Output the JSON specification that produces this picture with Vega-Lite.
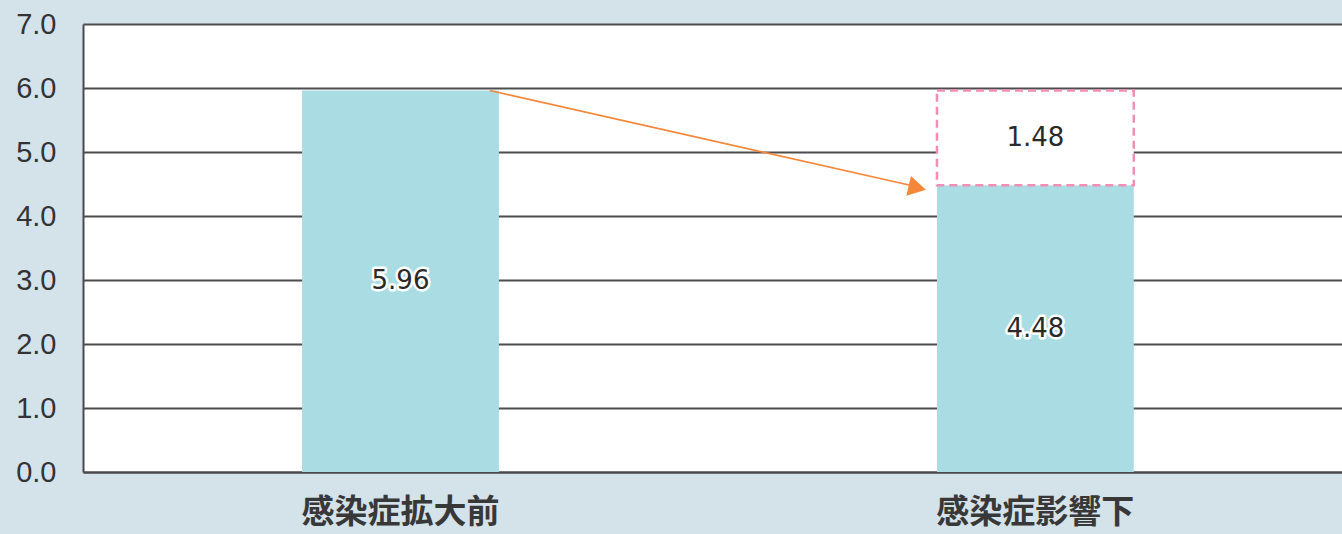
{
  "$schema": "https://vega.github.io/schema/vega-lite/v6.json",
  "autosize": "none",
  "padding": {"left": 83, "top": 24, "right": 0, "bottom": 62},
  "width": 1259,
  "height": 448,
  "background": "#d4e2e9",
  "config": {
    "view": {"fill": "white", "stroke": null},
    "axis": {"domainColor": "#4a4a4a", "domainWidth": 2, "gridColor": "#4d4d4d", "gridWidth": 2, "ticks": false}
  },
  "datasets": {
    "bars": [
      {"period": "感染症拡大前", "part": "実績", "y0": 0, "y1": 5.96, "value": 5.96},
      {"period": "感染症影響下", "part": "実績", "y0": 0, "y1": 4.48, "value": 4.48},
      {"period": "感染症影響下", "part": "減少分", "y0": 4.48, "y1": 5.96, "value": 1.48}
    ],
    "arrow": [
      {"from": "感染症拡大前", "to": "感染症影響下", "start": 5.96, "end": 4.44}
    ]
  },
  "encoding": {
    "x": {
      "field": "period",
      "type": "nominal",
      "sort": null,
      "scale": {"paddingInner": 0.69, "paddingOuter": 0.3365, "align": 0.5127},
      "axis": {
        "title": null,
        "labelAngle": 0,
        "labelLimit": 0,
        "labelFont": "Noto Sans CJK JP",
        "labelFontSize": 33,
        "labelFontWeight": "bold",
        "labelColor": "#383838",
        "labelPadding": 24,
        "labelBaseline": "top"
      }
    }
  },
  "layer": [
    {
      "data": {"name": "bars"},
      "transform": [{"filter": "datum.part === '実績'"}],
      "mark": {"type": "bar", "fill": "#a9dce3"},
      "encoding": {
        "y": {
          "field": "y1",
          "type": "quantitative",
          "scale": {"domain": [0, 7]},
          "axis": {
            "title": null,
            "values": [0, 1, 2, 3, 4, 5, 6, 7],
            "format": ".1f",
            "labelOverlap": false,
            "labelFont": "Liberation Sans",
            "labelFontSize": 29,
            "labelColor": "#333333",
            "labelPadding": 27
          }
        },
        "y2": {"field": "y0"}
      }
    },
    {
      "data": {"name": "bars"},
      "transform": [{"filter": "datum.part === '減少分'"}],
      "mark": {"type": "bar", "fill": "white", "stroke": "#f28db5", "strokeWidth": 2.5, "strokeDash": [8, 5]},
      "encoding": {
        "y": {"field": "y1", "type": "quantitative"},
        "y2": {"field": "y0"}
      }
    },
    {
      "data": {"name": "arrow"},
      "mark": {"type": "rule", "color": "#f5873a", "strokeWidth": 1.6},
      "encoding": {
        "x": {"field": "from", "type": "nominal", "bandPosition": 0.954},
        "x2": {"field": "to", "bandPosition": -0.08},
        "y": {"field": "start", "type": "quantitative"},
        "y2": {"field": "end"}
      }
    },
    {
      "data": {"name": "arrow"},
      "mark": {"type": "point", "shape": "triangle-right", "filled": true, "color": "#f5873a", "opacity": 1, "size": 420, "angle": 12.8},
      "encoding": {
        "x": {"field": "to", "type": "nominal", "bandPosition": -0.1},
        "y": {"field": "end", "type": "quantitative"}
      }
    },
    {
      "data": {"name": "bars"},
      "transform": [{"calculate": "(datum.y0 + datum.y1) / 2", "as": "mid"}],
      "mark": {"type": "text", "font": "DejaVu Sans", "fontSize": 26, "stroke": "white", "strokeWidth": 5, "strokeJoin": "round", "fill": "white", "baseline": "middle", "align": "center"},
      "encoding": {
        "y": {"field": "mid", "type": "quantitative"},
        "text": {"field": "value", "type": "quantitative", "format": ".2f"}
      }
    },
    {
      "data": {"name": "bars"},
      "transform": [{"calculate": "(datum.y0 + datum.y1) / 2", "as": "mid"}],
      "mark": {"type": "text", "font": "DejaVu Sans", "fontSize": 26, "color": "#2a2a2a", "baseline": "middle", "align": "center"},
      "encoding": {
        "y": {"field": "mid", "type": "quantitative"},
        "text": {"field": "value", "type": "quantitative", "format": ".2f"}
      }
    }
  ]
}
